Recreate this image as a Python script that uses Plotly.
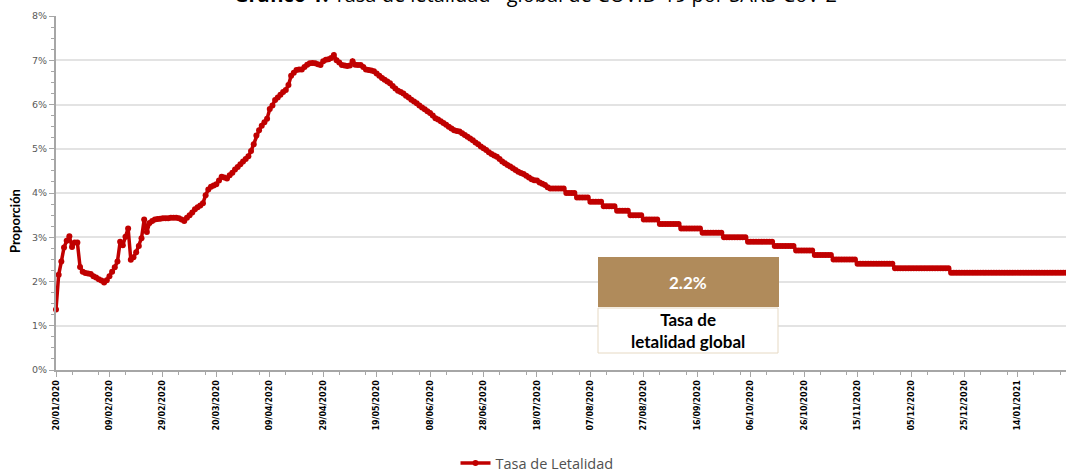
import pandas as pd
import plotly.graph_objects as go

# ---------------- data ----------------
start_date = "2020-01-20"
tasa_letalidad = [
    1.37, 2.15, 2.45, 2.77, 2.92, 3.02, 2.78, 2.88, 2.88, 2.33,
    2.22, 2.19, 2.18, 2.17, 2.12, 2.09, 2.05, 2.02, 1.98, 2.03,
    2.12, 2.22, 2.32, 2.45, 2.90, 2.82, 3.01, 3.20, 2.49, 2.55,
    2.66, 2.80, 2.98, 3.40, 3.12, 3.32, 3.37, 3.40, 3.41, 3.42,
    3.43, 3.43, 3.43, 3.44, 3.44, 3.44, 3.43, 3.40, 3.37, 3.44,
    3.50, 3.56, 3.63, 3.68, 3.72, 3.77, 3.95, 4.08, 4.14, 4.17,
    4.20, 4.28, 4.37, 4.35, 4.33, 4.40, 4.46, 4.53, 4.59, 4.65,
    4.71, 4.77, 4.83, 4.95, 5.10, 5.30, 5.42, 5.52, 5.60, 5.68,
    5.90, 5.98, 6.10, 6.16, 6.22, 6.28, 6.33, 6.44, 6.65, 6.72,
    6.78, 6.79, 6.79, 6.85, 6.90, 6.93, 6.94, 6.93, 6.91, 6.89,
    6.98, 7.01, 7.02, 7.05, 7.12, 7.00, 6.95, 6.89, 6.88, 6.87,
    6.88, 6.98, 6.90, 6.89, 6.89, 6.85, 6.79, 6.78, 6.77, 6.75,
    6.70, 6.65, 6.60, 6.56, 6.52, 6.48, 6.42, 6.36, 6.31, 6.28,
    6.25, 6.20, 6.16, 6.11, 6.07, 6.03, 5.98, 5.93, 5.89, 5.85,
    5.81, 5.75, 5.69, 5.66, 5.62, 5.58, 5.54, 5.50, 5.46, 5.42,
    5.40, 5.39, 5.35, 5.31, 5.27, 5.23, 5.19, 5.14, 5.10, 5.05,
    5.01, 4.97, 4.92, 4.88, 4.85, 4.82, 4.77, 4.71, 4.67, 4.63,
    4.60, 4.56, 4.52, 4.48, 4.45, 4.43, 4.39, 4.35, 4.31, 4.29,
    4.28, 4.24, 4.21, 4.18, 4.13, 4.10, 4.10, 4.10, 4.10, 4.10,
    4.10, 4.00, 4.00, 4.00, 4.00, 3.90, 3.90, 3.90, 3.90, 3.90,
    3.80, 3.80, 3.80, 3.80, 3.80, 3.70, 3.70, 3.70, 3.70, 3.70,
    3.60, 3.60, 3.60, 3.60, 3.60, 3.50, 3.50, 3.50, 3.50, 3.50,
    3.40, 3.40, 3.40, 3.40, 3.40, 3.40, 3.30, 3.30, 3.30, 3.30,
    3.30, 3.30, 3.30, 3.30, 3.20, 3.20, 3.20, 3.20, 3.20, 3.20,
    3.20, 3.20, 3.10, 3.10, 3.10, 3.10, 3.10, 3.10, 3.10, 3.10,
    3.00, 3.00, 3.00, 3.00, 3.00, 3.00, 3.00, 3.00, 3.00, 2.90,
    2.90, 2.90, 2.90, 2.90, 2.90, 2.90, 2.90, 2.90, 2.90, 2.80,
    2.80, 2.80, 2.80, 2.80, 2.80, 2.80, 2.80, 2.70, 2.70, 2.70,
    2.70, 2.70, 2.70, 2.70, 2.60, 2.60, 2.60, 2.60, 2.60, 2.60,
    2.60, 2.50, 2.50, 2.50, 2.50, 2.50, 2.50, 2.50, 2.50, 2.50,
    2.40, 2.40, 2.40, 2.40, 2.40, 2.40, 2.40, 2.40, 2.40, 2.40,
    2.40, 2.40, 2.40, 2.40, 2.30, 2.30, 2.30, 2.30, 2.30, 2.30,
    2.30, 2.30, 2.30, 2.30, 2.30, 2.30, 2.30, 2.30, 2.30, 2.30,
    2.30, 2.30, 2.30, 2.30, 2.30, 2.20, 2.20, 2.20, 2.20, 2.20,
    2.20, 2.20, 2.20, 2.20, 2.20, 2.20, 2.20, 2.20, 2.20, 2.20,
    2.20, 2.20, 2.20, 2.20, 2.20, 2.20, 2.20, 2.20, 2.20, 2.20,
    2.20, 2.20, 2.20, 2.20, 2.20, 2.20, 2.20, 2.20, 2.20, 2.20,
    2.20, 2.20, 2.20, 2.20, 2.20, 2.20, 2.20, 2.20, 2.20,
]
y_ticks = [0, 1, 2, 3, 4, 5, 6, 7, 8]
y_tick_labels = ["0%", "1%", "2%", "3%", "4%", "5%", "6%", "7%", "8%"]
series_name = "Tasa de Letalidad"
y_title = "Proporción"
tasa_global_valor = "2.2%"
tasa_global_texto = "Tasa de<br>letalidad global"
titulo = "<b>Gráfico 1.</b> Tasa de letalidad* global de COVID-19 por SARS-CoV-2"

fechas = pd.date_range(start_date, periods=len(tasa_letalidad), freq="D")

# ---------------- figure ----------------
RED = "#C00000"
DAY_MS = 86400000

fig = go.Figure()
fig.add_trace(go.Scatter(
    x=fechas, y=tasa_letalidad, name=series_name,
    mode="lines+markers",
    line=dict(color=RED, width=3.5),
    marker=dict(color=RED, size=6),
    cliponaxis=False,
))

# plot-area pixel geometry
L, R, T, B = 56, 1066, 16, 370
W, H = 1066, 471

def px(xp):
    return (xp - L) / (R - L)

def py(yp):
    return (B - yp) / (B - T)

fig.update_layout(
    width=W, height=H,
    margin=dict(l=L, r=W - R, t=T, b=H - B, autoexpand=False),
    paper_bgcolor="white", plot_bgcolor="white",
    showlegend=True,
    legend=dict(orientation="h", x=px(537), xanchor="center", y=py(463), yanchor="middle",
                font=dict(family="Open Sans", size=14.5, color="#505050"),
                itemwidth=30, bgcolor="rgba(0,0,0,0)"),
    font=dict(family="DejaVu Sans"),
)

fig.update_xaxes(
    type="date", automargin=False,
    range=[fechas[0], fechas[-1]],
    tick0=start_date, dtick=20 * DAY_MS,
    tickformat="%d/%m/%Y", tickangle=-90,
    tickfont=dict(family="DejaVu Sans", size=8, color="#000000", weight="bold"),
    ticks="outside", ticklen=5, tickcolor="#A6A6A6", tickwidth=1,
    minor=dict(dtick=10 * DAY_MS, ticks="outside", ticklen=3, tickcolor="#A6A6A6", showgrid=False),
    showline=True, linecolor="#A6A6A6", linewidth=2,
    showgrid=False, zeroline=False,
)
fig.update_yaxes(
    range=[0, 8], tickvals=y_ticks, ticktext=y_tick_labels, automargin=False,
    tickfont=dict(family="DejaVu Sans", size=9.5, color="#595959"),
    ticks="outside", ticklen=5, tickcolor="#A6A6A6",
    minor=dict(dtick=0.25, ticks="outside", ticklen=3, tickcolor="#A6A6A6", showgrid=False),
    showline=True, linecolor="#A6A6A6", linewidth=2,
    showgrid=True, gridcolor="#E3E3E3", gridwidth=2,
    zeroline=False,
)

# y-axis title
fig.add_annotation(text="<b>" + y_title + "</b>", xref="paper", yref="paper",
                   x=px(15), y=py(221), xanchor="center", yanchor="middle", textangle=-90,
                   showarrow=False, font=dict(family="Lato", size=13, color="#000000"))

# title (cut at the top edge as in the reference)
fig.add_annotation(text=titulo, xref="paper", yref="paper", x=px(535), y=py(10),
                   xanchor="center", yanchor="bottom", showarrow=False,
                   font=dict(family="Open Sans", size=20, color="#000000"))

# global rate box
fig.add_shape(type="rect", xref="paper", yref="paper",
              x0=px(598), x1=px(779), y0=py(307), y1=py(257),
              fillcolor="#B08B5B", line=dict(width=0), layer="above")
fig.add_shape(type="rect", xref="paper", yref="paper",
              x0=px(598), x1=px(778), y0=py(353), y1=py(308),
              fillcolor="white", line=dict(color="#E6D9C3", width=1), layer="above")
fig.add_annotation(text="<b>" + tasa_global_valor + "</b>", xref="paper", yref="paper",
                   x=px(688), y=py(282), xanchor="center", yanchor="middle", showarrow=False,
                   font=dict(family="Lato", size=17, color="white"))
fig.add_annotation(text="<b>" + tasa_global_texto + "</b>", xref="paper", yref="paper",
                   x=px(688), y=py(330), xanchor="center", yanchor="middle", showarrow=False,
                   font=dict(family="Lato", size=17, color="#000000"))

fig.write_html("out.html", config={"displayModeBar": False},
               post_script="document.body.style.margin='0';")
